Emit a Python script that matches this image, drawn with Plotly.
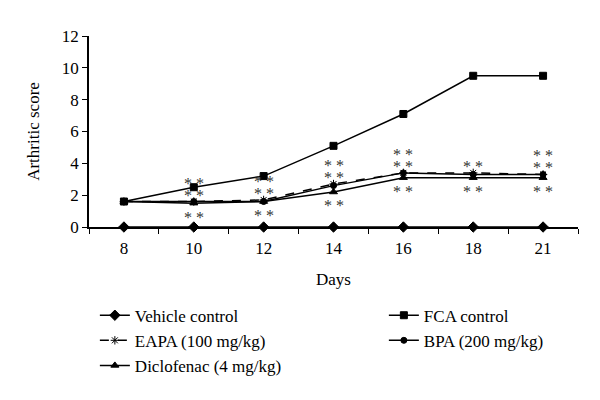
import plotly.graph_objects as go

days = ["8", "10", "12", "14", "16", "18", "21"]
vehicle = [0, 0, 0, 0, 0, 0, 0]
fca = [1.6, 2.5, 3.2, 5.1, 7.1, 9.5, 9.5]
eapa = [1.6, 1.6, 1.7, 2.7, 3.4, 3.4, 3.3]
bpa = [1.6, 1.6, 1.6, 2.6, 3.4, 3.3, 3.3]
diclo = [1.6, 1.5, 1.6, 2.2, 3.1, 3.1, 3.1]
stars_above = [0, 2, 2, 2, 2, 1, 2]
stars_below = [0, 1, 1, 1, 1, 1, 1]

FONT = "Liberation Serif, Times New Roman, serif"
fig = go.Figure()

def add(name, y, symbol, size, dash="solid", legend="legend"):
    fig.add_trace(go.Scatter(
        x=days, y=y, name=name, mode="lines+markers",
        line=dict(color="black", width=1.5, dash=dash),
        marker=dict(symbol=symbol, size=size, color="black",
                    line=dict(color="black", width=1)),
        legend=legend, cliponaxis=False))

add("Vehicle control", vehicle, "diamond", 8)
add("EAPA (100 mg/kg)", eapa, "asterisk-open", 7, dash="dash")
add("Diclofenac (4 mg/kg)", diclo, "triangle-up", 7)
add("FCA control", fca, "square", 7, legend="legend2")
add("BPA (200 mg/kg)", bpa, "circle", 6, legend="legend2")

STAR = "<span style='font-size:16px'>* *</span>"
annotations = []
for i, d in enumerate(days):
    top = max(eapa[i], bpa[i], diclo[i])
    bot = min(eapa[i], bpa[i], diclo[i])
    n = stars_above[i]
    if n:
        annotations.append(dict(x=i, y=top, xref="x", yref="y", text="<br>".join([STAR] * n),
                                showarrow=False, yanchor="bottom", yshift=-4,
                                font=dict(family=FONT, size=9, color="#333")))
    if stars_below[i]:
        annotations.append(dict(x=i, y=bot, xref="x", yref="y", text=STAR,
                                showarrow=False, yshift=-14,
                                font=dict(family=FONT, size=9, color="#333")))

# page body has an 8px default margin; margins compensate so the plot lands where the reference has it
fig.update_layout(
    width=600, height=400,
    margin=dict(l=81, r=30, t=28, b=181, autoexpand=False),
    paper_bgcolor="white", plot_bgcolor="white",
    font=dict(family=FONT, size=17, color="black"),
    annotations=annotations,
    xaxis=dict(type="category", range=[-0.5, 6.5], showline=True, linecolor="black",
               linewidth=1.5, ticks="outside", tickson="boundaries", ticklen=5,
               tickcolor="black", showgrid=False, zeroline=False, ticklabelstandoff=5,
               tickfont=dict(family=FONT, size=17),
               title=dict(text="Days", font=dict(family=FONT, size=17), standoff=16)),
    yaxis=dict(range=[0, 12], dtick=2, showline=True, linecolor="black", linewidth=1.5,
               ticks="outside", ticklen=5, tickcolor="black", showgrid=False, zeroline=False,
               tickfont=dict(family=FONT, size=17),
               title=dict(text="Arthritic score", font=dict(family=FONT, size=17), standoff=18)),
    legend=dict(x=0.012, y=-0.37, xanchor="left", yanchor="top", tracegroupgap=0,
                font=dict(family=FONT, size=17), bgcolor="rgba(0,0,0,0)"),
    legend2=dict(x=0.603, y=-0.37, xanchor="left", yanchor="top", tracegroupgap=0,
                 font=dict(family=FONT, size=17), bgcolor="rgba(0,0,0,0)"),
)

fig.write_html("out.html")
